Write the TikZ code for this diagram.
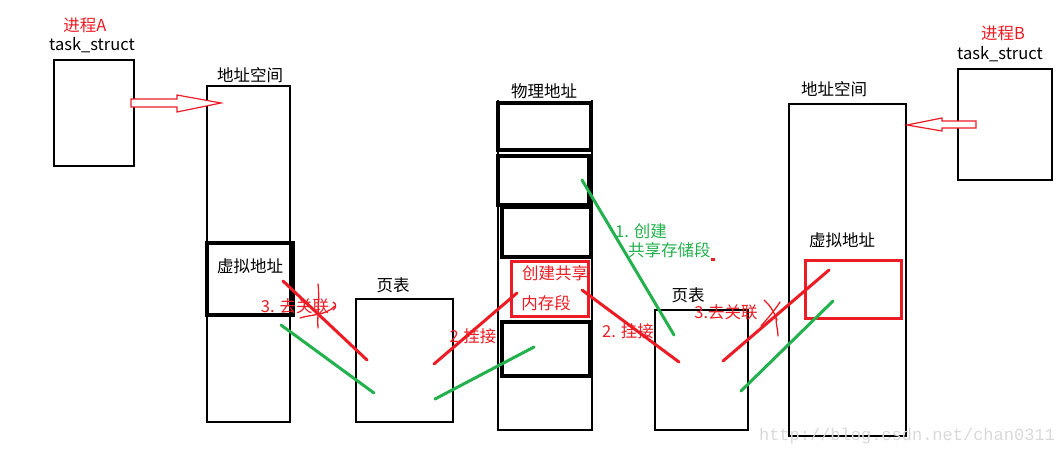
\documentclass[tikz,border=0pt]{standalone}
\usepackage{fontspec}
\setmainfont{Noto Sans CJK SC}
\newfontfamily\wmfont{Liberation Mono}
\definecolor{pred}{RGB}{237,28,36}
\definecolor{pgreen}{RGB}{34,177,76}
\begin{document}
\begin{tikzpicture}[x=1pt,y=-1pt,
  thinbox/.style={draw=black,line width=1.2pt},
  thickbox/.style={draw=black,line width=3.5pt},
  redbox/.style={draw=pred,line width=3pt},
  lbl/.style={font=\fontsize{16.5}{18}\selectfont,inner sep=0pt,anchor=center},
  rlbl/.style={lbl,text=pred},
  glbl/.style={lbl,text=pgreen},
  rstroke/.style={draw=pred,line width=3pt,line cap=round},
  gstroke/.style={draw=pgreen,line width=3pt,line cap=round},
  scribble/.style={draw=pred,line width=1.3pt,line cap=round},
  hollow/.style={draw=pred,line width=1.2pt,fill=white}]
\useasboundingbox (0,0) rectangle (1064,455);
% process A
\node[rlbl] (pa) at (85,25) {进程A};
\node[lbl] (tsa) at (92,45) {task\_struct};
\draw[thinbox] (54,60) rectangle (134,166);
% address space A
\node[lbl] (asal) at (250,75) {地址空间};
\draw[thinbox] (207,86) rectangle (290,422);
\draw[thickbox] (207,243) rectangle (293,315);
\node[lbl] (vaa) at (250,266) {虚拟地址};
% hollow arrow A
\draw[hollow] (131,99) -- (177,99) -- (177,95) -- (221,103) -- (177,112) -- (177,107) -- (131,107) -- cycle;
% page table A
\node[lbl] (pta) at (393,285) {页表};
\draw[thinbox] (356,299) rectangle (453,422);
% physical
\node[lbl] (phl) at (544,91) {物理地址};
\draw[thinbox] (498,100) -- (498,430) -- (592,430) -- (592,100);
\draw[thickbox] (498,103) rectangle (591,150);
\draw[thickbox] (498,156) rectangle (589,205);
\draw[thickbox] (502,207) rectangle (591,257);
\draw[thickbox] (502,322) rectangle (590,376);
\draw[redbox] (511,261) rectangle (588,316);
\node[rlbl] (sh1) at (555,273) {创建共享};
\node[rlbl] (sh2) at (546,303) {内存段};
% page table B
\node[lbl] (ptb) at (688,295) {页表};
\draw[thinbox] (655,310) rectangle (748,430);
% address space B
\node[lbl] (asbl) at (834,89) {地址空间};
\draw[thinbox] (789,104) rectangle (906,436);
\node[lbl] (vab) at (842,240) {虚拟地址};
\draw[redbox] (805,260) rectangle (901,318);
% process B
\node[rlbl] (pb) at (1003,33) {进程B};
\node[lbl] (tsb) at (1000,54) {task\_struct};
\draw[thinbox] (958,69) rectangle (1052,180);
% hollow arrow B
\draw[hollow] (976,121) -- (942,121) -- (942,118) -- (907,125) -- (942,131) -- (942,128) -- (976,128) -- cycle;
% strokes
\coordinate (r1a) at (283,281); \coordinate (r1b) at (367,360);
\coordinate (g1a) at (281,325); \coordinate (g1b) at (374,393);
\coordinate (r2a) at (434,364); \coordinate (r2b) at (517,293);
\coordinate (g2a) at (435,399); \coordinate (g2b) at (534,347);
\coordinate (r3a) at (582,290); \coordinate (r3b) at (679,362);
\coordinate (g3a) at (582,180); \coordinate (g3b) at (674,335);
\coordinate (r4a) at (723,361); \coordinate (r4b) at (829,270);
\coordinate (g4a) at (741,391); \coordinate (g4b) at (833,301);
\draw[rstroke] (r1a) -- (r1b);
\draw[gstroke] (g1a) -- (g1b);
\draw[rstroke] (r2a) -- (r2b);
\draw[gstroke] (g2a) -- (g2b);
\draw[rstroke] (r3a) -- (r3b);
\draw[gstroke] (g3a) -- (g3b);
\draw[rstroke] (r4a) -- (r4b);
\draw[gstroke] (g4a) -- (g4b);
% labels
\node[rlbl] (l3a) at (295,306) {3. 去关联};
\node[rlbl] (l2a) at (473,336) {2.挂接};
\node[rlbl] (l2b) at (628,331) {2. 挂接};
\node[glbl,anchor=west] (l1a) at (615,231) {1. 创建};
\node[glbl,anchor=west] (l1b) at (628,250) {共享存储段};
\fill[pred] (711,258) rectangle (715,261);
\node[rlbl] (l3b) at (726,312) {3.去关联};
% scribbles
\draw[scribble] (318,284) .. controls (320,300) and (317,315) .. (318,328);
\draw[scribble] (300,318) .. controls (312,314) and (325,316) .. (335,306);
\draw[scribble] (333,302) .. controls (337,304) and (336,308) .. (333,310);
\draw[scribble] (764,300) .. controls (770,305) and (774,312) .. (777,320);
\draw[scribble] (780,302) .. controls (775,310) and (768,318) .. (761,326);
\draw[scribble] (776,318) .. controls (776,325) and (778,330) .. (778,336);
% watermark
\node[font=\wmfont\fontsize{17}{19}\selectfont,text=black!15,inner sep=0pt] (wm) at (907,436) {http://blog.csdn.net/chan0311};
\end{tikzpicture}
\end{document}
